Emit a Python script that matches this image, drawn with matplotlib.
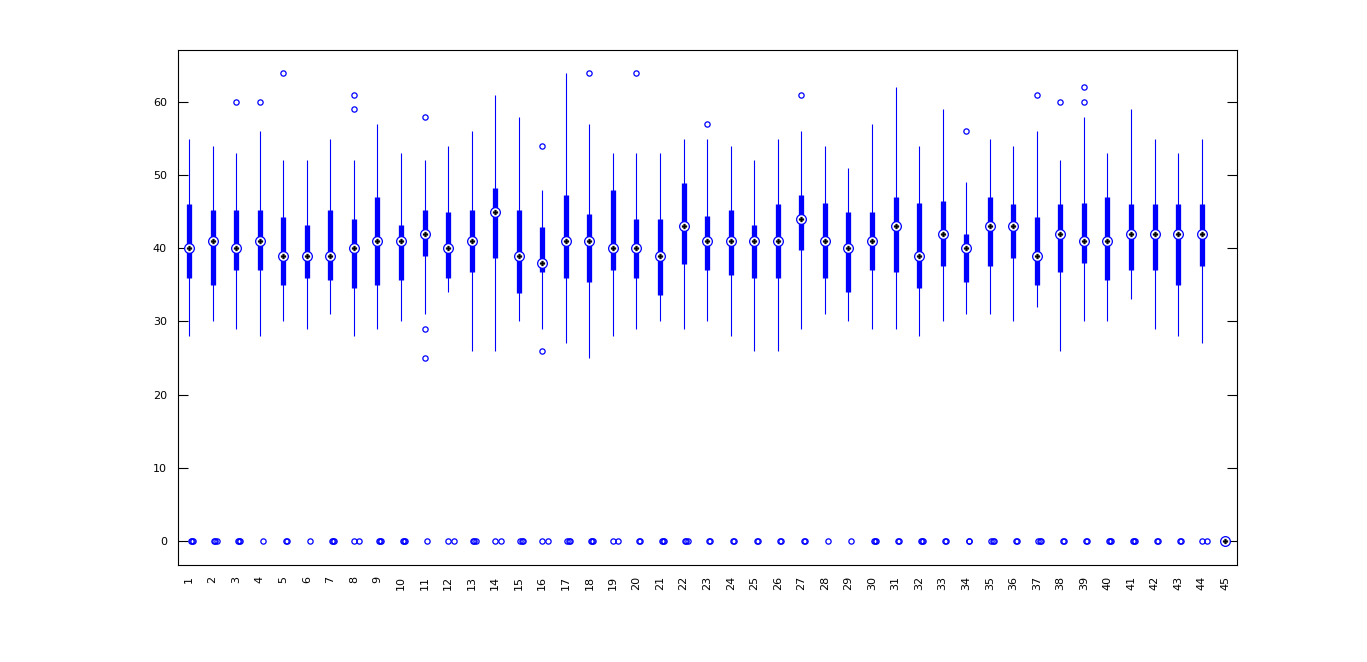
import numpy as np
import matplotlib
matplotlib.use("Agg")
import matplotlib.pyplot as plt

# box statistics (one entry per group 1..45)
groups = list(range(1, 46))
whis_hi = [55, 54, 53, 56, 52, 52, 55, 52, 57, 53, 52, 54, 56, 61, 58, 48, 64, 57, 53, 53,
           53, 55, 55, 54, 52, 55, 56, 54, 51, 57, 62, 54, 59, 49, 55, 54, 56, 52, 58, 53,
           59, 55, 53, 55, 0]
q3 = [46, 45.2, 45.2, 45.2, 44.3, 43.2, 45.2, 44, 47, 43.2, 45.2, 45, 45.2, 48.2, 45.2, 42.9, 47.3, 44.7, 48, 44,
      44, 48.9, 44.4, 45.2, 43.2, 46, 47.3, 46.2, 45, 45, 47, 46.2, 46.4, 42, 47, 46, 44.3, 46, 46.2, 47,
      46, 46, 46, 46, 0]
med = [40, 41, 40, 41, 39, 39, 39, 40, 41, 41, 42, 40, 41, 45, 39, 38, 41, 41, 40, 40,
       39, 43, 41, 41, 41, 41, 44, 41, 40, 41, 43, 39, 42, 40, 43, 43, 39, 42, 41, 41,
       42, 42, 42, 42, 0]
q1 = [36, 35, 37, 37, 35, 36, 35.6, 34.6, 35, 35.6, 38.9, 36, 36.7, 38.6, 33.9, 36.7, 36, 35.4, 37, 36,
      33.6, 37.9, 37, 36.4, 36, 36, 39.7, 36, 34, 37, 36.7, 34.6, 37.6, 35.4, 37.6, 38.6, 35, 36.7, 38, 35.6,
      37, 37, 35, 37.6, 0]
whis_lo = [28, 30, 29, 28, 30, 29, 31, 28, 29, 30, 31, 34, 26, 26, 30, 29, 27, 25, 28, 29,
           30, 29, 30, 28, 26, 26, 29, 31, 30, 29, 29, 28, 30, 31, 31, 30, 32, 26, 30, 30,
           33, 29, 28, 27, 0]

# outliers other than the zero cluster: (group, value)
out_group = [3, 4, 5, 8, 8, 11, 11, 11, 16, 16, 18, 20, 23, 27, 34, 37, 38, 39, 39]
out_value = [60, 60, 64, 61, 59, 58, 29, 25, 54, 26, 64, 64, 57, 61, 56, 61, 60, 62, 60]

# zero-valued outliers per group: how many distinct jittered circles are visible
zero_n = [3, 3, 3, 1, 2, 1, 3, 2, 3, 3, 1, 2, 3, 2, 3, 2, 3, 3, 2, 2,
          3, 3, 2, 2, 2, 2, 2, 1, 1, 3, 2, 3, 2, 2, 3, 2, 3, 2, 2, 3,
          3, 2, 2, 2, 0]
# horizontal jitter spread of that cluster (x units)
zero_spread = [0.1, 0.1, 0.1, 0, 0.04, 0, 0.1, 0.22, 0.1, 0.1, 0, 0.22, 0.1, 0.22, 0.1, 0.26, 0.1, 0.1, 0.22, 0.04,
               0.1, 0.1, 0.04, 0.04, 0.04, 0.04, 0.04, 0, 0, 0.1, 0.04, 0.1, 0.04, 0.04, 0.1, 0.04, 0.1, 0.04, 0.04, 0.1,
               0.1, 0.04, 0.04, 0.22, 0]

blue = "#0000ff"

fig = plt.figure(figsize=(13.67, 6.62), dpi=100)
ax = fig.add_axes([0.1302, 0.1465, 0.7747, 0.778])

x = np.array(groups, dtype=float)

# whiskers and boxes (compact style)
ax.vlines(x, whis_lo, whis_hi, color=blue, linewidth=0.8, zorder=2)
ax.vlines(x, q1, q3, color=blue, linewidth=3.8, zorder=3, capstyle="butt")

# outliers
ax.plot(np.array(out_group, dtype=float), out_value, "o", mfc="none", mec=blue,
        ms=3.8, mew=0.9, zorder=4, linestyle="none")
zx = []
for g, n, s in zip(groups, zero_n, zero_spread):
    if n == 0:
        continue
    c = g + 0.12
    if n == 1:
        zx.append(c)
    else:
        zx.extend(np.linspace(c - s / 2, c + s / 2, n))
ax.plot(zx, np.zeros(len(zx)), "o", mfc="none", mec=blue, ms=3.8, mew=0.9,
        zorder=4, linestyle="none")

# medians: white circle with black dot
ax.plot(x, med, "o", mfc="white", mec=blue, ms=7, mew=0.9, zorder=5, linestyle="none")
ax.plot(x, med, "P", mfc="black", mec="black", ms=3.5, mew=0.3, zorder=6, linestyle="none")

ax.set_xlim(0.53, 45.5)
ax.set_ylim(-3.3, 67.1)
ax.set_yticks([0, 10, 20, 30, 40, 50, 60])
ax.set_xticks(x)
ax.set_xticklabels([str(g) for g in groups], rotation=90, fontsize=8)
ax.tick_params(axis="x", length=0, pad=8)
ax.tick_params(axis="y", direction="in", length=7, width=0.8, right=True, labelsize=8, pad=8)
for sp in ax.spines.values():
    sp.set_linewidth(0.8)

fig.savefig("out.png", dpi=100)
